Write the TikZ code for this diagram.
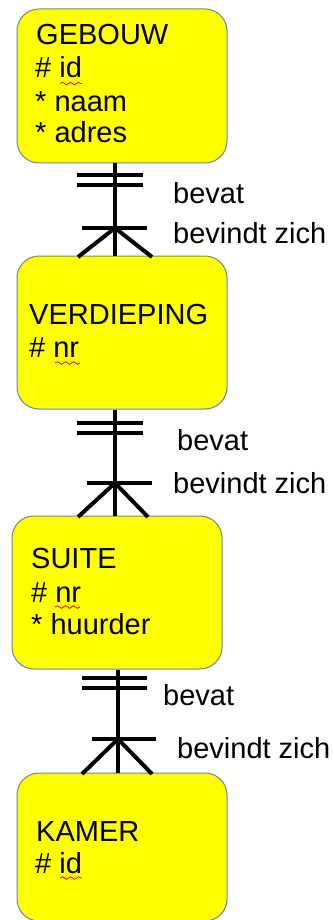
\documentclass[tikz,border=0pt]{standalone}
\usepackage{fontspec}
\setmainfont{Liberation Sans}
\usetikzlibrary{decorations.pathmorphing}
\definecolor{boxblue}{RGB}{105,135,165}
\definecolor{entfill}{RGB}{255,255,0}
\begin{document}
\begin{tikzpicture}[x=1pt,y=-1pt,
  entity/.style={draw=boxblue, line width=1pt, fill=entfill, rounded corners=22pt, minimum width=210pt, inner sep=0pt},
  attr/.style={anchor=base west, inner sep=0pt, font=\fontsize{29}{33}\selectfont},
  rel/.style={anchor=base west, inner sep=0pt, font=\fontsize{29}{33}\selectfont},
  conn/.style={line width=4pt, black},
  spell/.style={draw=red, line width=0.8pt, decorate, decoration={snake, amplitude=1.3pt, segment length=8pt}}
]
\useasboundingbox (0,0) rectangle (334,920);

% entities
\node[entity, minimum height=154pt] (g) at (122,86) {};
\node[entity, minimum height=153pt] (v) at (122,332.5) {};
\node[entity, minimum height=153pt] (s) at (117,592.5) {};
\node[entity, minimum height=148pt] (k) at (122,847) {};

% attribute texts
\node[attr] (g1) at (36,45) {GEBOUW};
\node[attr] (g2) at (35,78) {\# id};
\node[attr] (g3) at (35,112) {* naam};
\node[attr] (g4) at (35,143) {* adres};

\node[attr] (v1) at (29,324) {VERDIEPING};
\node[attr] (v2) at (29,357) {\# nr};

\node[attr] (s1) at (31,568) {SUITE};
\node[attr] (s2) at (31,602) {\# nr};
\node[attr] (s3) at (31,634) {* huurder};

\node[attr] (k1) at (36,841) {KAMER};
\node[attr] (k2) at (35,873) {\# id};

% spell-check underlines
\draw[spell] (60,83.5) -- (82,83.5);
\draw[spell] (55,363) -- (80,363);
\draw[spell] (55,607) -- (80,607);
\draw[spell] (60,878) -- (82,878);

% connector 1
\coordinate (x1) at (115,0);
\draw[conn] (g.south -| x1) -- (v.north -| x1);
\draw[conn] (77,175) -- (143,175);
\draw[conn] (77,185) -- (143,185);
\draw[conn] (82,228) -- (147,228);
\draw[conn] (78,257) -- (115,228) -- (152,257);
\node[rel] (r1a) at (173,203) {bevat};
\node[rel] (r1b) at (173,243) {bevindt zich};

% connector 2
\coordinate (x2) at (115,0);
\draw[conn] (v.south -| x2) -- (s.north -| x2);
\draw[conn] (77,423) -- (143,423);
\draw[conn] (77,433) -- (143,433);
\draw[conn] (87,483) -- (152,483);
\draw[conn] (78,517) -- (115,483) -- (148,517);
\node[rel] (r2a) at (177,450) {bevat};
\node[rel] (r2b) at (173,493) {bevindt zich};

% connector 3
\coordinate (x3) at (118,0);
\draw[conn] (s.south -| x3) -- (k.north -| x3);
\draw[conn] (82,678) -- (147,678);
\draw[conn] (82,688) -- (147,688);
\draw[conn] (92,739) -- (156,739);
\draw[conn] (82,774) -- (118,739) -- (152,774);
\node[rel] (r3a) at (163,705) {bevat};
\node[rel] (r3b) at (177,758) {bevindt zich};
\end{tikzpicture}
\end{document}
